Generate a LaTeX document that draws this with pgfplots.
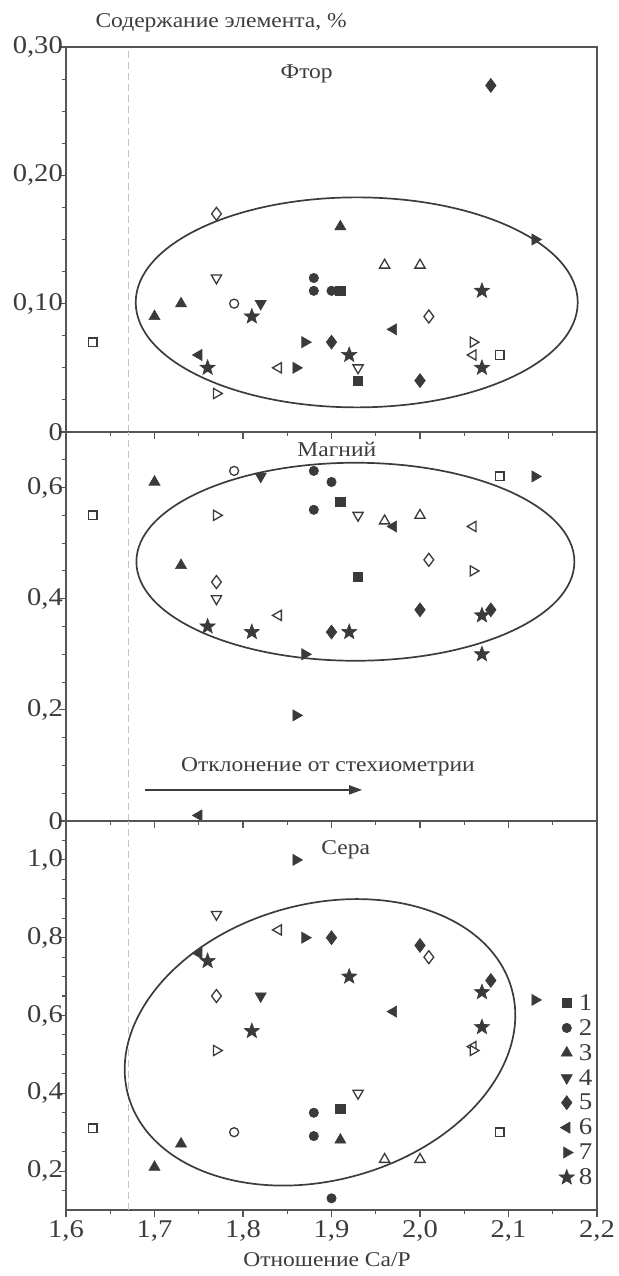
\documentclass[border=0pt]{standalone}
\usepackage{pgfplots}
\pgfplotsset{compat=1.18}
\usepackage{fontspec}
\setmainfont{Liberation Serif}[FakeStretch=1.12]
\usetikzlibrary{arrows.meta}
\definecolor{mk}{RGB}{58,58,58}
\definecolor{ax}{RGB}{85,85,85}
\definecolor{tx}{RGB}{60,60,60}
\definecolor{dl}{RGB}{195,195,195}

\pgfdeclareplotmark{fstar}{%
  \pgfpathmoveto{\pgfpointpolar{90}{\pgfplotmarksize}}%
  \pgfpathlineto{\pgfpointpolar{126}{0.42\pgfplotmarksize}}%
  \pgfpathlineto{\pgfpointpolar{162}{\pgfplotmarksize}}%
  \pgfpathlineto{\pgfpointpolar{198}{0.42\pgfplotmarksize}}%
  \pgfpathlineto{\pgfpointpolar{234}{\pgfplotmarksize}}%
  \pgfpathlineto{\pgfpointpolar{270}{0.42\pgfplotmarksize}}%
  \pgfpathlineto{\pgfpointpolar{306}{\pgfplotmarksize}}%
  \pgfpathlineto{\pgfpointpolar{342}{0.42\pgfplotmarksize}}%
  \pgfpathlineto{\pgfpointpolar{18}{\pgfplotmarksize}}%
  \pgfpathlineto{\pgfpointpolar{54}{0.42\pgfplotmarksize}}%
  \pgfpathclose
  \pgfusepathqfillstroke
}

\pgfplotsset{
  panel/.style={
    scale only axis, width=531pt,
    xmin=1.6, xmax=2.2, clip=false,
    axis line style={ax, line width=1.1pt},
    xtick={1.6,1.7,1.8,1.9,2.0,2.1,2.2},
    minor xtick={1.65,1.75,1.85,1.95,2.05,2.15},
    tick align=outside, xtick pos=left, ytick pos=left,
    major tick length=7pt, minor tick length=4pt,
    every tick/.style={ax, line width=1.1pt},
    tick label style={font=\fontsize{25.5}{27}\selectfont, text=tx},
    /pgf/number format/assume math mode=true,
    yticklabel style={inner sep=1pt, xshift=5pt},
  },
  fill1/.style={only marks, mark options={fill=mk, draw=mk, line width=0.6pt}},
  open1/.style={only marks, forget plot, mark options={fill=white, draw=mk, line width=1.3pt}},
  s1/.style={mark=square*, mark size=4.6pt},
  s2/.style={mark=*, mark size=4.7pt},
  s3/.style={mark=triangle*, mark size=6.4pt},
  s4/.style={mark=triangle*, mark size=6.4pt, every mark/.append style={rotate=180}},
  s5/.style={mark=diamond*, mark size=7pt},
  s6/.style={mark=triangle*, mark size=6.4pt, every mark/.append style={rotate=90}},
  s7/.style={mark=triangle*, mark size=6.4pt, every mark/.append style={rotate=-90}},
  s8/.style={mark=fstar, mark size=8pt},
  o1/.style={mark=square*, mark size=4.3pt},
  o2/.style={mark=*, mark size=4.5pt},
  o3/.style={mark=triangle*, mark size=5.9pt},
  o4/.style={mark=triangle*, mark size=5.9pt, every mark/.append style={rotate=180}},
  o5/.style={mark=diamond*, mark size=6.5pt},
  o6/.style={mark=triangle*, mark size=5.9pt, every mark/.append style={rotate=90}},
  o7/.style={mark=triangle*, mark size=5.9pt, every mark/.append style={rotate=-90}},
}

\begin{document}
\begin{tikzpicture}
\useasboundingbox (0pt,0pt) rectangle (618pt,1276pt);

% ---------------- Panel 1: Fluorine ----------------
\begin{axis}[panel, at={(66pt,844pt)}, anchor=south west, height=385pt,
  ymin=0, ymax=0.3, ytick={0,0.1,0.2,0.3},
  minor ytick={0.025,0.05,0.075,0.125,0.15,0.175,0.225,0.25,0.275},
  yticklabels={0,{0,10},{0,20},{0,30}}, xticklabels={}]
\draw[dl, dash pattern=on 7pt off 4pt, line width=0.7pt] (axis cs:1.67,0) -- (axis cs:1.67,0.3);
\draw[tx, line width=1.7pt] (axis cs:1.9285,0.101) ellipse [x radius=221pt, y radius=105pt];
\node[font=\fontsize{21}{24}\selectfont, text=tx] at (axis cs:1.872,0.279) {Фтор};
\addplot[fill1,s1] coordinates {(1.91,0.11) (1.93,0.04)};
\addplot[fill1,s2] coordinates {(1.88,0.12) (1.88,0.11) (1.90,0.11)};
\addplot[fill1,s3] coordinates {(1.91,0.16) (1.70,0.09) (1.73,0.10)};
\addplot[fill1,s4] coordinates {(1.82,0.10)};
\addplot[fill1,s5] coordinates {(2.08,0.27) (1.90,0.07) (2.00,0.04)};
\addplot[fill1,s6] coordinates {(1.97,0.08) (1.75,0.06)};
\addplot[fill1,s7] coordinates {(2.13,0.15) (1.87,0.07) (1.86,0.05)};
\addplot[fill1,s8] coordinates {(2.07,0.11) (1.81,0.09) (1.92,0.06) (1.76,0.05) (2.07,0.05)};
\addplot[open1,o1] coordinates {(1.63,0.07) (2.09,0.06)};
\addplot[open1,o2] coordinates {(1.79,0.10)};
\addplot[open1,o3] coordinates {(1.96,0.13) (2.00,0.13)};
\addplot[open1,o4] coordinates {(1.77,0.12) (1.93,0.05)};
\addplot[open1,o5] coordinates {(1.77,0.17) (2.01,0.09)};
\addplot[open1,o6] coordinates {(1.84,0.05) (2.06,0.06)};
\addplot[open1,o7] coordinates {(2.06,0.07) (1.77,0.03)};
\end{axis}

% ---------------- Panel 2: Magnesium ----------------
\begin{axis}[panel, at={(66pt,455pt)}, anchor=south west, height=389pt,
  ymin=0, ymax=0.7, ytick={0,0.2,0.4,0.6},
  minor ytick={0.05,0.1,0.15,0.25,0.3,0.35,0.45,0.5,0.55,0.65},
  yticklabels={0,{0,2},{0,4},{0,6}}, xticklabels={}]
\draw[dl, dash pattern=on 7pt off 4pt, line width=0.7pt] (axis cs:1.67,0) -- (axis cs:1.67,0.7);
\draw[tx, line width=1.7pt] (axis cs:1.927,0.4665) ellipse [x radius=219pt, y radius=99pt];
\node[font=\fontsize{21}{24}\selectfont, text=tx] at (axis cs:1.906,0.668) {Магний};
\node[font=\fontsize{21}{24}\selectfont, text=tx] at (axis cs:1.896,0.098) {Отклонение от стехиометрии};
\draw[tx, line width=1.8pt, -{Triangle[length=13pt,width=9pt]}] (axis cs:1.6897,0.056) -- (axis cs:1.9346,0.056);
\addplot[fill1,s1] coordinates {(1.91,0.575) (1.93,0.44)};
\addplot[fill1,s2] coordinates {(1.88,0.63) (1.90,0.61) (1.88,0.56)};
\addplot[fill1,s3] coordinates {(1.70,0.61) (1.73,0.46)};
\addplot[fill1,s4] coordinates {(1.82,0.62)};
\addplot[fill1,s5] coordinates {(2.00,0.38) (2.08,0.38) (1.90,0.34)};
\addplot[fill1,s6] coordinates {(1.97,0.53) (1.75,0.01)};
\addplot[fill1,s7] coordinates {(2.13,0.62) (1.87,0.30) (1.86,0.19)};
\addplot[fill1,s8] coordinates {(2.07,0.37) (1.76,0.35) (1.81,0.34) (1.92,0.34) (2.07,0.30)};
\addplot[open1,o1] coordinates {(1.63,0.55) (2.09,0.62)};
\addplot[open1,o2] coordinates {(1.79,0.63)};
\addplot[open1,o3] coordinates {(1.96,0.54) (2.00,0.55)};
\addplot[open1,o4] coordinates {(1.93,0.55) (1.77,0.40)};
\addplot[open1,o5] coordinates {(2.01,0.47) (1.77,0.43)};
\addplot[open1,o6] coordinates {(2.06,0.53) (1.84,0.37)};
\addplot[open1,o7] coordinates {(1.77,0.55) (2.06,0.45)};
\end{axis}

% ---------------- Panel 3: Sulfur ----------------
\begin{axis}[panel, at={(66pt,66pt)}, anchor=south west, height=389pt,
  ymin=0.1, ymax=1.1, ytick={0.2,0.4,0.6,0.8,1.0},
  minor ytick={0.15,0.25,0.3,0.35,0.45,0.5,0.55,0.65,0.7,0.75,0.85,0.9,0.95,1.05},
  yticklabels={{0,2},{0,4},{0,6},{0,8},{1,0}},
  xticklabels={{1,6},{1,7},{1,8},{1,9},{2,0},{2,1},{2,2}},
  legend style={draw=none, fill=none, at={(1,0.564)}, anchor=north east,
    font=\fontsize{24}{25}\selectfont, text=tx, row sep=4.6pt,
    nodes={inner sep=1.5pt}},
  legend cell align=left,
  legend image code/.code={\draw[#1] plot coordinates {(0.25cm,0cm)};},
  /tikz/every odd column/.append style={column sep=3pt}]
\draw[dl, dash pattern=on 7pt off 4pt, line width=0.7pt] (axis cs:1.67,0.1) -- (axis cs:1.67,1.1);
\draw[tx, line width=1.7pt, rotate around={15.5:(axis cs:1.887,0.531)}] (axis cs:1.887,0.531) ellipse [x radius=199pt, y radius=138pt];
\node[font=\fontsize{21}{24}\selectfont, text=tx] at (axis cs:1.916,1.026) {Сера};
\addplot[fill1,s1] coordinates {(1.91,0.36)}; \addlegendentry{1}
\addplot[fill1,s2] coordinates {(1.88,0.35) (1.88,0.29) (1.90,0.13)}; \addlegendentry{2}
\addplot[fill1,s3] coordinates {(1.91,0.28) (1.73,0.27) (1.70,0.21)}; \addlegendentry{3}
\addplot[fill1,s4] coordinates {(1.82,0.65)}; \addlegendentry{4}
\addplot[fill1,s5] coordinates {(1.90,0.80) (2.00,0.78) (2.08,0.69)}; \addlegendentry{5}
\addplot[fill1,s6] coordinates {(1.75,0.76) (1.97,0.61)}; \addlegendentry{6}
\addplot[fill1,s7] coordinates {(1.86,1.00) (1.87,0.80) (2.13,0.64)}; \addlegendentry{7}
\addplot[fill1,s8] coordinates {(1.76,0.74) (1.92,0.70) (2.07,0.66) (2.07,0.57) (1.81,0.56)}; \addlegendentry{8}
\addplot[open1,o1] coordinates {(1.63,0.31) (2.09,0.30)};
\addplot[open1,o2] coordinates {(1.79,0.30)};
\addplot[open1,o3] coordinates {(1.96,0.23) (2.00,0.23)};
\addplot[open1,o4] coordinates {(1.77,0.86) (1.93,0.40)};
\addplot[open1,o5] coordinates {(2.01,0.75) (1.77,0.65)};
\addplot[open1,o6] coordinates {(1.84,0.82) (2.06,0.52)};
\addplot[open1,o7] coordinates {(1.77,0.51) (2.06,0.51)};
\end{axis}

\node[anchor=west, font=\fontsize{21}{24}\selectfont, text=tx] at (92pt,1253pt) {Содержание элемента, \%};
\node[font=\fontsize{21}{24}\selectfont, text=tx] at (327pt,16pt) {Отношение Ca/P};
\end{tikzpicture}
\end{document}
